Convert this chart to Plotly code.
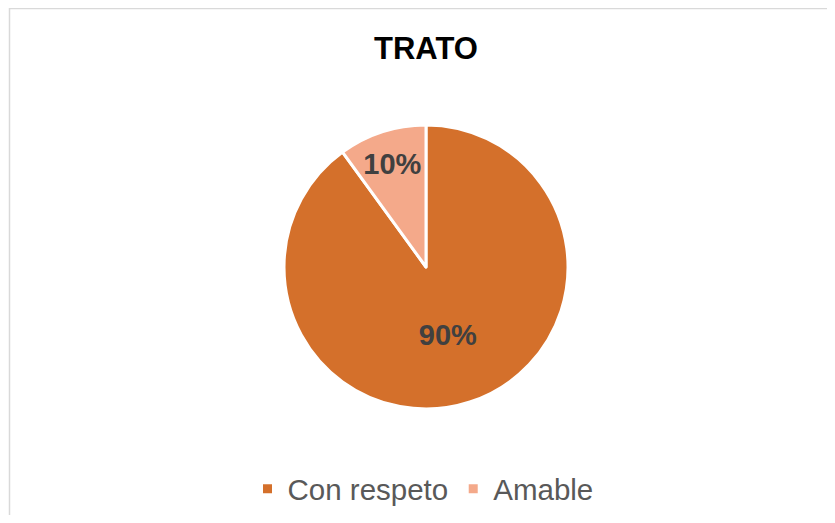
import plotly.graph_objects as go

labels = ["Con respeto", "Amable"]
values = [90, 10]
colors = ["#D4702B", "#F4A98A"]
title_text = "TRATO"

# page body has an 8px margin; figure is sized to fit the 835x523 window
OFF = 8
W, H = 835 - OFF, 523 - 2 * OFF


def px_x(x):
    return (x - OFF) / W


def px_y(y):
    return 1 - (y - OFF) / H


fig = go.Figure()
fig.add_trace(go.Pie(
    labels=labels,
    values=values,
    sort=False,
    direction="clockwise",
    rotation=0,
    marker=dict(colors=colors, line=dict(color="white", width=3)),
    textinfo="percent",
    texttemplate="%{percent:.0%}",
    textposition="inside",
    insidetextorientation="horizontal",
    textfont=dict(family="Liberation Sans, Arial", size=29, color="#404040", weight="bold"),
    domain=dict(x=[px_x(284), px_x(568)], y=[px_y(409), px_y(125)]),
    hoverinfo="label+percent",
))

fig.update_layout(
    width=W, height=H,
    margin=dict(l=0, r=0, t=0, b=0),
    paper_bgcolor="white",
    plot_bgcolor="white",
    title=dict(
        text="<b>" + title_text + "</b>",
        x=px_x(426), xanchor="center",
        y=px_y(48), yanchor="middle",
        font=dict(family="Liberation Sans, Arial", size=31, color="#000000"),
    ),
    legend=dict(
        orientation="h",
        x=px_x(423), xanchor="center",
        y=px_y(489), yanchor="middle",
        font=dict(family="Liberation Sans, Arial", size=29.5, color="#595959"),
        itemwidth=30,
        traceorder="normal",
    ),
    shapes=[dict(
        type="rect", xref="paper", yref="paper",
        x0=px_x(9.5), x1=1.2, y0=-0.3, y1=px_y(8.5),
        line=dict(color="#D9D9D9", width=1.5),
        fillcolor="rgba(0,0,0,0)",
    )],
)

fig.write_html("out.html")
